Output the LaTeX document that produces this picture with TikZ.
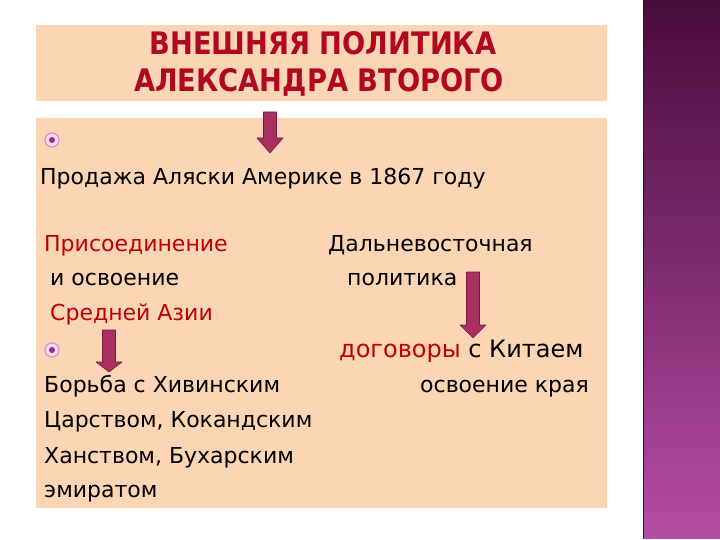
\documentclass[tikz,border=0pt]{standalone}
\usepackage{fontspec}
\setmainfont{DejaVu Sans}
\usepackage{tikz}
\usetikzlibrary{shadings}
\definecolor{peach}{RGB}{252,213,181}
\definecolor{darkred}{RGB}{192,0,0}
\definecolor{titlered}{RGB}{176,8,32}
\definecolor{arrowfill}{RGB}{170,48,98}
\definecolor{arrowedge}{RGB}{118,28,64}
\definecolor{barTop}{RGB}{72,12,58}
\definecolor{barBottom}{RGB}{182,76,166}
\definecolor{ringpink}{RGB}{222,150,205}
\definecolor{dotpurple}{RGB}{150,45,130}
\newcommand{\narrow}[1]{\scalebox{0.88}[1]{#1}}
\tikzset{
panel/.style={fill=peach,draw=none},
heading/.style={anchor=base,text=titlered,font=\fontsize{31bp}{36bp}\selectfont\bfseries,inner sep=0pt},
body/.style={anchor=base west,font=\fontsize{22bp}{26bp}\selectfont,inner sep=0pt},
accent/.style={body,text=darkred},
blockarrow/.style={fill=arrowfill,draw=arrowedge,line width=0.6bp,line join=round},
ring/.style={circle,draw=ringpink,fill=ringpink!35,line width=1.3bp,minimum size=14bp,inner sep=0pt},
}

\begin{document}
\begin{tikzpicture}[x=1bp,y=-1bp]
\useasboundingbox[fill=white] (0,0) rectangle (720,540);
% the panels
\fill[panel] (36,25) rectangle (607,101);
\fill[panel] (36,118) rectangle (607,508);
\shade[top color=barTop,bottom color=barBottom] (643,0) rectangle (720,538);
\draw[barTop!80!black,line width=1.5bp] (643.7,0) -- (643.7,538);
% the title
\node[heading] (title1) at (323,55) {\narrow{ВНЕШНЯЯ ПОЛИТИКА}};
\node[heading] (title2) at (319,92) {\narrow{АЛЕКСАНДРА ВТОРОГО}};
% the bullets
\foreach \y [count=\i] in {140,350}
{
  \node[ring] (bullet\i) at (52,\y) {};
  \fill[dotpurple] (bullet\i) circle (3bp);
}
% the texts
\node[body] (alaska) at (40,185) {Продажа Аляски Америке в 1867 году};
\node[accent] (asia1) at (44,252) {Присоединение};
\node[body] (asia2) at (50,286) {и освоение};
\node[accent] (asia3) at (50,320) {Средней Азии};
\node[body] (war1) at (44,392) {Борьба с Хивинским};
\node[body] (war2) at (44,427) {Царством, Кокандским};
\node[body] (war3) at (44,463) {Ханством, Бухарским};
\node[body] (war4) at (44,497) {эмиратом};
\node[body] (east1) at (328,252) {Дальневосточная};
\node[body] (east2) at (347,286) {политика};
\node[body,font=\fontsize{24bp}{28bp}\selectfont] (china) at (339,357)
  {\textcolor{darkred}{договоры} с Китаем};
\node[body] (land) at (420,392) {освоение края};
% the arrows
\foreach \cx/\ytop/\yhead/\ytip in {270/112/138/153,109/330/362/372,473/272/325/338}
{
  \draw[blockarrow]
    ({\cx-6.5},\ytop) -- ({\cx+6.5},\ytop) -- ({\cx+6.5},\yhead) --
    ({\cx+13},\yhead) -- (\cx,\ytip) -- ({\cx-13},\yhead) --
    ({\cx-6.5},\yhead) -- cycle;
}
\end{tikzpicture}
\end{document}
